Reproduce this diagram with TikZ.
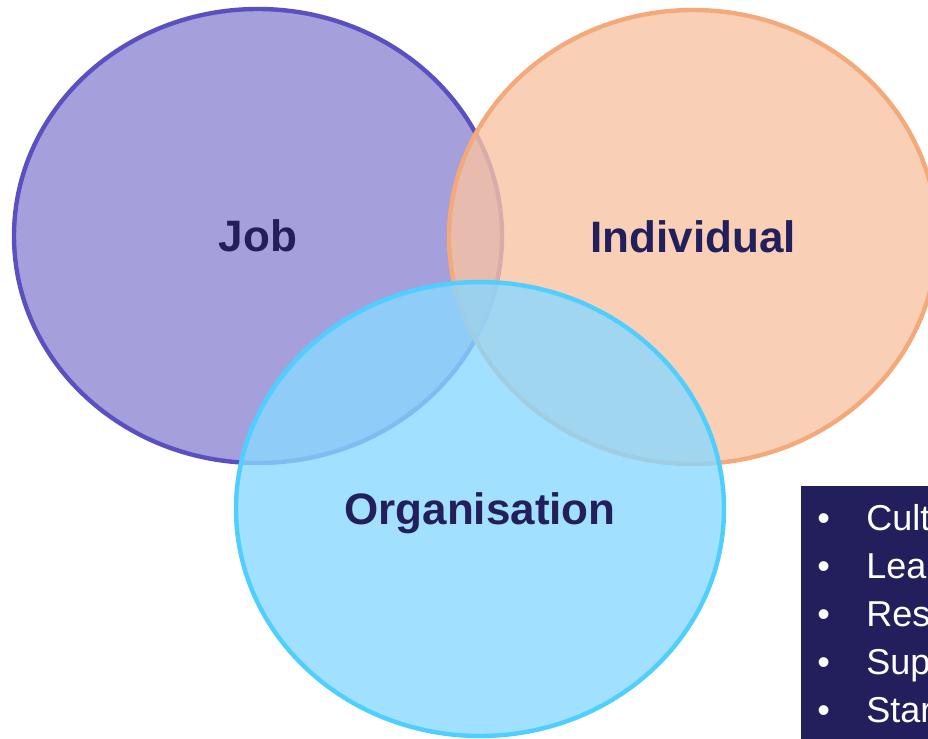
\documentclass[tikz,border=0pt]{standalone}
\usepackage{fontspec}
\setmainfont{Liberation Sans}
\usetikzlibrary{shapes.geometric}

\definecolor{jobfill}{RGB}{143,136,210}
\definecolor{jobline}{RGB}{90,80,194}
\definecolor{indfill}{RGB}{248,196,164}
\definecolor{indline}{RGB}{244,169,123}
\definecolor{orgfill}{RGB}{138,216,255}
\definecolor{orgline}{RGB}{79,207,255}
\definecolor{darknavy}{RGB}{35,31,92}

\begin{document}
\begin{tikzpicture}[x=0.5pt,y=-0.5pt,
        set/.style={ellipse,draw,line width=2.2pt,inner sep=0pt,
            minimum width=244pt,minimum height=227pt,
            fill opacity=0.8,text opacity=1,text=darknavy,text depth=0pt,
            font=\fontsize{22}{26}\selectfont\bfseries},
        item/.style={anchor=base west,inner sep=0pt,text=white,
            font=\fontsize{18}{22}\selectfont}]

    \useasboundingbox (0,0) rectangle (928,739);

    % the three sets
    \node[set,fill=jobfill,draw=jobline] (job) at (258,236) {Job};
    \node[set,fill=indfill,draw=indline] (ind) at (693,237) {Individual};
    \node[set,fill=orgfill,draw=orgline] (org) at (480,509) {Organisation};

    % list box, cut by the page edge
    \node[fill=darknavy,anchor=north west,inner sep=0pt,
        minimum width=75pt,minimum height=135pt] (box) at (801,486) {};
    \foreach \t [count=\i] in {Cult,Lea,Res,Sup,Star} {
        \node[item] (dot\i) at (817,{530+48*(\i-1)}) {\textbullet};
        \node[item] (txt\i) at (866,{530+48*(\i-1)}) {\t};
    }
\end{tikzpicture}
\end{document}
